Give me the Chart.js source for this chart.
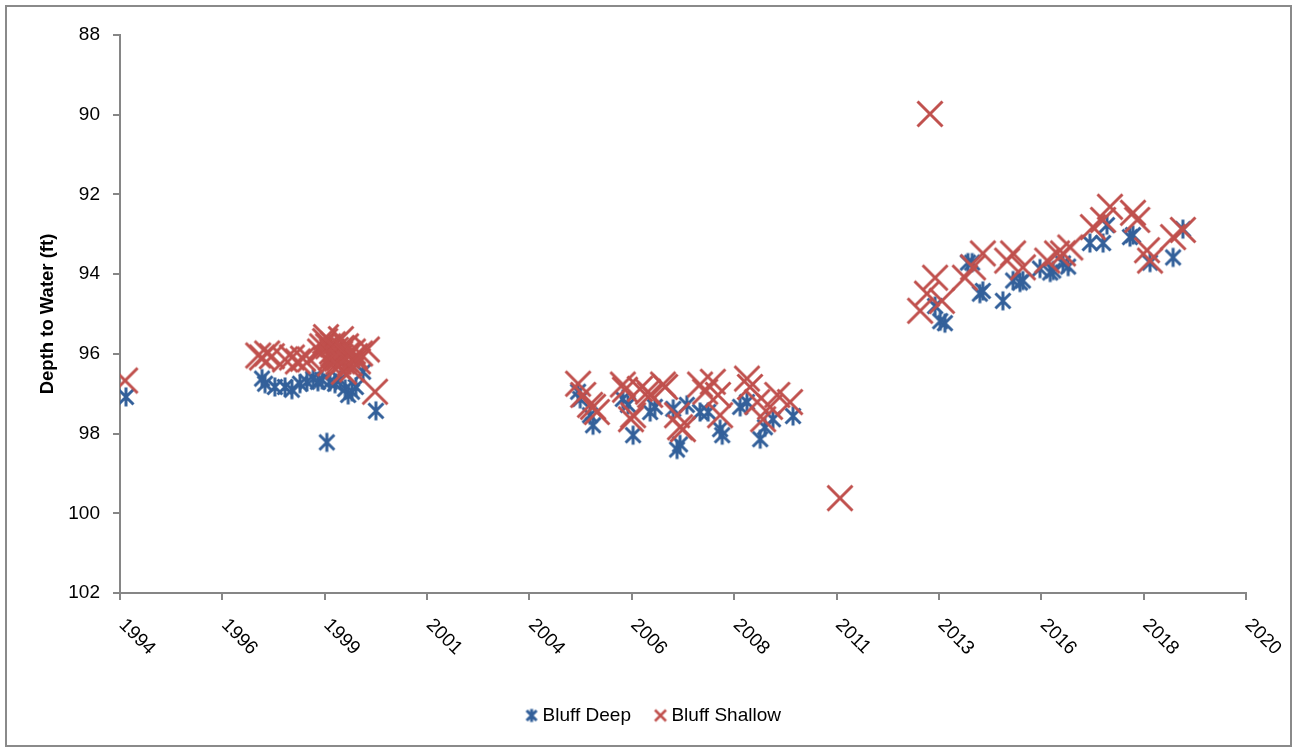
<!DOCTYPE html>
<html><head><meta charset="utf-8">
<script src="https://cdn.jsdelivr.net/npm/chart.js@4/dist/chart.umd.min.js"></script>
<style>html,body{margin:0;padding:0;background:#fff;overflow:hidden}</style>
</head><body>
<canvas id="c" width="1292" height="748"></canvas>
<script>
const xTickLabels = ['1994','1996','1999','2001','2004','2006','2008','2011','2013','2016','2018','2020'];
const yTicks = [88, 90, 92, 94, 96, 98, 100, 102];
const seriesNames = ['Bluff Deep', 'Bluff Shallow'];

const deepDates = [1994.64,
  1997.83,1997.90,1998.13,1998.37,1998.53,1998.72,1998.88,1999.03,1999.14,1999.24,1999.35,1999.42,1999.54,1999.66,1999.78,1999.85,1999.94,2000.03,2000.20,2000.50,
  2005.24,2005.29,2005.52,2005.59,2006.29,2006.41,2006.53,2006.93,2007.04,2007.47,2007.56,2007.63,2007.79,2008.10,2008.29,2008.57,2008.62,2009.04,2009.20,2009.51,2009.62,2009.81,2010.28,
  2013.61,2013.73,2013.84,2014.38,2014.48,2014.66,2014.73,2015.20,2015.44,2015.60,2015.67,2016.07,2016.31,2016.38,2016.61,2016.73,2017.24,2017.55,2017.64,2018.18,2018.25,2018.65,2019.19,2019.42];
const deepDepths = [97.08,
  96.62,96.75,96.83,96.83,96.90,96.75,96.70,96.62,96.70,96.65,98.22,96.70,96.75,96.65,96.88,97.03,96.95,96.83,96.45,97.43,
  96.95,97.13,97.54,97.79,97.13,97.28,98.04,97.46,97.33,97.38,98.40,98.27,97.28,97.46,97.46,97.89,98.04,97.33,97.21,98.14,97.84,97.64,97.56,
  94.80,95.18,95.23,93.71,93.71,94.49,94.42,94.67,94.16,94.21,94.16,93.86,93.96,93.91,93.73,93.81,93.22,93.22,92.77,93.07,93.02,93.71,93.58,92.87];

const shallowDates = [1994.62,
  1997.74,1997.83,1997.95,1998.06,1998.37,1998.53,1998.67,1998.79,1998.95,1999.19,1999.24,1999.31,1999.33,1999.38,1999.42,1999.45,1999.47,1999.49,1999.50,1999.54,1999.56,1999.59,1999.61,1999.62,1999.64,1999.66,1999.68,1999.70,1999.71,1999.75,1999.78,1999.80,1999.83,1999.85,1999.89,1999.94,1999.96,2000.01,2000.08,2000.13,2000.29,2000.48,
  2005.24,2005.36,2005.52,2005.59,2005.68,2006.29,2006.34,2006.48,2006.53,2006.69,2006.88,2006.93,2007.23,2007.28,2007.56,2007.63,2007.70,2008.10,2008.22,2008.40,2008.52,2008.57,2009.20,2009.27,2009.44,2009.58,2009.74,2009.91,2010.21,
  2011.38,
  2013.26,2013.42,2013.49,2013.61,2013.77,2014.31,2014.50,2014.73,2015.30,2015.44,2015.67,2016.24,2016.47,2016.61,2016.78,2017.31,2017.55,2017.71,2018.25,2018.35,2018.58,2018.65,2019.19,2019.42];
const shallowDepths = [96.67,
  96.04,96.09,95.99,96.06,96.14,96.09,96.19,96.12,96.14,95.94,95.81,95.68,95.58,95.81,96.24,96.10,95.94,95.76,96.00,96.06,95.90,96.12,96.32,96.20,96.10,95.99,95.63,95.85,96.19,96.45,96.14,95.81,96.05,95.99,96.24,96.39,95.94,96.06,96.19,95.99,95.89,96.95,
  96.75,97.03,97.28,97.33,97.46,96.77,96.90,97.64,97.54,96.88,96.95,97.03,96.77,96.83,97.54,97.84,97.89,96.77,96.95,96.70,97.03,97.54,96.62,96.83,97.21,97.64,97.33,97.03,97.21,
  99.62,
  94.92,94.49,89.98,94.09,94.67,94.09,93.83,93.48,93.66,93.48,93.83,93.66,93.48,93.48,93.33,92.82,92.64,92.31,92.46,92.64,93.40,93.66,93.07,92.89];

const BLUE = '#33609A';
const RED = '#C0504D';
const AXIS = '#868686';
const FONT = '"Liberation Sans", Arial, sans-serif';

function asterisk(size, hx, hy, lw, color) {
  const c = document.createElement('canvas');
  c.width = size; c.height = size;
  const g = c.getContext('2d');
  const m = size / 2;
  g.strokeStyle = color; g.lineWidth = lw; g.lineCap = 'butt';
  g.beginPath();
  g.moveTo(m, m - hy); g.lineTo(m, m + hy);
  g.moveTo(m - hx, m - hx); g.lineTo(m + hx, m + hx);
  g.moveTo(m - hx, m + hx); g.lineTo(m + hx, m - hx);
  g.stroke();
  return c;
}
function xMark(size, h, lw, color) {
  const c = document.createElement('canvas');
  c.width = size; c.height = size;
  const g = c.getContext('2d');
  const m = size / 2;
  g.strokeStyle = color; g.lineWidth = lw; g.lineCap = 'butt';
  g.beginPath();
  g.moveTo(m - h, m - h); g.lineTo(m + h, m + h);
  g.moveTo(m - h, m + h); g.lineTo(m + h, m - h);
  g.stroke();
  return c;
}
const deepMarker = asterisk(24, 7.5, 9.5, 3, BLUE);
const shallowMarker = xMark(30, 12.5, 3, RED);
const deepLegend = asterisk(16, 5, 6.5, 3, BLUE);
const shallowLegend = xMark(16, 5.5, 2.5, RED);

const toPoints = (xs, ys) => xs.map((x, i) => ({x: x, y: ys[i]}));

const frame = {
  id: 'frame',
  beforeDraw(chart) {
    const ctx = chart.ctx;
    ctx.save();
    ctx.fillStyle = '#fff';
    ctx.fillRect(0, 0, chart.width, chart.height);
    ctx.strokeStyle = '#8a8a8a';
    ctx.lineWidth = 2;
    ctx.strokeRect(6, 6, 1285, 740);
    ctx.restore();
  }
};
const rotatedLabels = {
  id: 'rotatedLabels',
  afterDraw(chart) {
    const xs = chart.scales.x, ctx = chart.ctx;
    ctx.save();
    ctx.font = '19px ' + FONT;
    ctx.fillStyle = '#000';
    ctx.textAlign = 'left';
    ctx.textBaseline = 'middle';
    xs.ticks.forEach((t, i) => {
      const px = xs.getPixelForValue(t.value);
      ctx.save();
      ctx.translate(px + 2, xs.top + 29);
      ctx.rotate(Math.PI / 4);
      ctx.fillText(xTickLabels[i] || '', 0, 0);
      ctx.restore();
    });
    ctx.restore();
  }
};

new Chart(document.getElementById('c'), {
  type: 'scatter',
  data: {
    datasets: [
      {label: seriesNames[0], data: toPoints(deepDates, deepDepths), pointStyle: deepMarker, borderColor: BLUE, backgroundColor: BLUE, order: 2},
      {label: seriesNames[1], data: toPoints(shallowDates, shallowDepths), pointStyle: shallowMarker, borderColor: RED, backgroundColor: RED, order: 1}
    ]
  },
  options: {
    responsive: false,
    animation: false,
    devicePixelRatio: 1,
    layout: {padding: {top: 35, left: 19, right: 0, bottom: 13}},
    plugins: {
      tooltip: {enabled: false},
      legend: {
        position: 'bottom',
        labels: {
          usePointStyle: true,
          pointStyleWidth: 3,
          padding: 28,
          color: '#000',
          font: {family: FONT, size: 19},
          generateLabels: () => [
            {text: seriesNames[0], pointStyle: deepLegend, fillStyle: BLUE, strokeStyle: BLUE, lineWidth: 0, hidden: false, datasetIndex: 0, fontColor: '#000'},
            {text: seriesNames[1], pointStyle: shallowLegend, fillStyle: RED, strokeStyle: RED, lineWidth: 0, hidden: false, datasetIndex: 1, fontColor: '#000'}
          ]
        }
      }
    },
    scales: {
      x: {
        type: 'linear',
        position: 'bottom',
        min: 1994.5,
        max: 2020.9,
        ticks: {stepSize: 2.4, display: false},
        grid: {drawOnChartArea: false, drawTicks: true, tickLength: 7, color: AXIS, lineWidth: 2},
        border: {display: true, color: AXIS, width: 2},
        afterFit: s => { s.height = 85; }
      },
      y: {
        type: 'linear',
        position: 'left',
        reverse: true,
        min: 88,
        max: 102,
        afterBuildTicks: s => { s.ticks = yTicks.map(v => ({value: v})); },
        ticks: {color: '#000', padding: 13, font: {family: FONT, size: 19}},
        grid: {drawOnChartArea: false, drawTicks: true, tickLength: 7, color: AXIS, lineWidth: 2},
        border: {display: true, color: AXIS, width: 2},
        title: {display: true, text: 'Depth to Water (ft)', color: '#000', font: {family: FONT, size: 18.5, weight: 'bold'}, padding: {top: 18, bottom: 0}},
        afterFit: s => { s.width = 101; }
      },
      yR: {
        type: 'linear',
        position: 'right',
        display: true,
        grid: {display: false},
        border: {display: false},
        ticks: {display: false},
        afterFit: s => { s.width = 46; }
      }
    }
  },
  plugins: [frame, rotatedLabels]
});
</script>
</body></html>
